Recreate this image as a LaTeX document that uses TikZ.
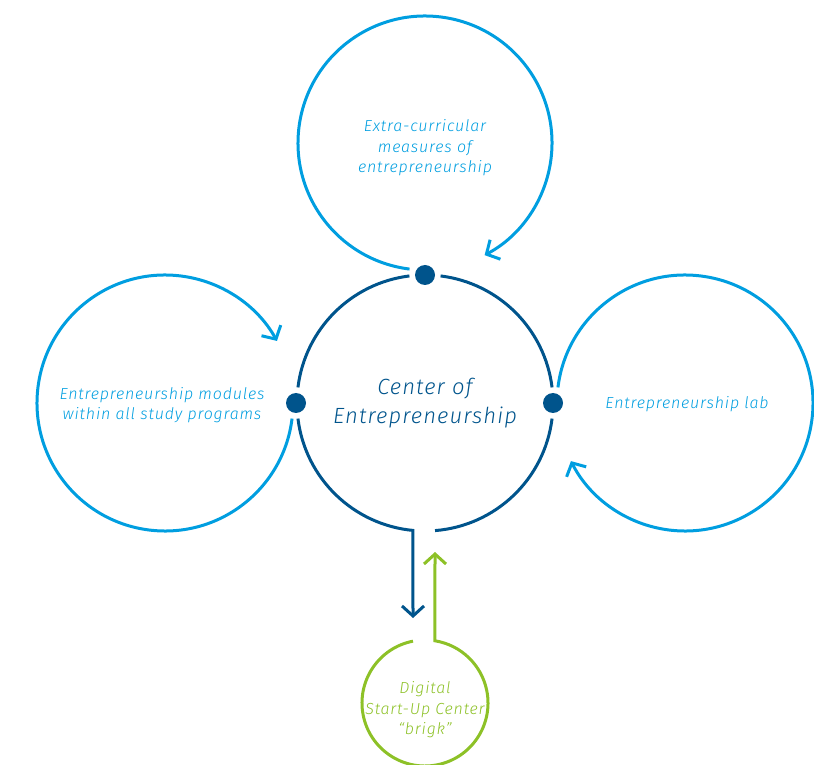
\documentclass[tikz,border=0pt]{standalone}
\usepackage{fontspec}
\usetikzlibrary{arrows.meta}
\newfontfamily\labfont{Fira Sans Light Italic}[LetterSpace=5]
\definecolor{lblue}{RGB}{0,158,224}
\definecolor{dblue}{RGB}{0,84,140}
\definecolor{lgreen}{RGB}{141,193,39}
\begin{document}
\begin{tikzpicture}[x=1pt,y=1pt,
  lb/.style={line width=3pt, draw=lblue},
  db/.style={line width=3pt, draw=dblue},
  gr/.style={line width=3pt, draw=lgreen},
  tip/.style={-{Straight Barb[length=10pt,width=22pt]}},
  dotnode/.style={circle, fill=dblue, inner sep=0pt, minimum size=20pt},
  smalltext/.style={font=\labfont\fontsize{16}{20.5}\selectfont, align=center, text=lblue},
  bigtext/.style={font=\labfont\fontsize{22}{29}\selectfont, align=center, text=dblue},
  greentext/.style={font=\labfont\fontsize{16}{20.5}\selectfont, align=center, text=lgreen}]
\useasboundingbox (0,0) rectangle (814,764);
\coordinate (M) at (425,361);
\coordinate (T) at (425,621);
\coordinate (L) at (165,361);
\coordinate (R) at (685,361);
\coordinate (G) at (425,61);
\coordinate (dk) at (413,146);
\coordinate (gt) at (435,212);
% outer circles
\draw[lb, tip] ([shift={(263:127)}]T) arc[start angle=263, end angle=-62, radius=127];
\draw[lb, tip] ([shift={(-7:128)}]L) arc[start angle=-7, end angle=-331, radius=128];
\draw[lb, tip] ([shift={(173:128)}]R) arc[start angle=173, end angle=-153, radius=128];
% main circle
\draw[db] ([shift={(97:128)}]M) arc[start angle=97, end angle=173, radius=128];
\draw[db] ([shift={(-85.5:128)}]M) arc[start angle=-85.5, end angle=-7, radius=128];
\draw[db] ([shift={(7:128)}]M) arc[start angle=7, end angle=83, radius=128];
\draw[db, tip] ([shift={(187:128)}]M) arc[start angle=187, end angle=264.6, radius=128] -- (dk);
% green circle
\draw[gr, tip] ([shift={(101:63)}]G) arc[start angle=101, end angle=440.9, radius=63] -- (gt);
% dots
\node[dotnode] (dT) at (425,489) {};
\node[dotnode] (dL) at (296,361) {};
\node[dotnode] (dR) at (553,361) {};
% texts
\node[smalltext] (tT) at (425,616) {Extra-curricular\\measures of\\entrepreneurship};
\node[smalltext] (tL) at (162,359) {Entrepreneurship modules\\within all study programs};
\node[smalltext] (tR) at (687,360) {Entrepreneurship lab};
\node[bigtext] (tM) at (425,361) {Center of\\Entrepreneurship};
\node[greentext] (tG) at (425,54) {Digital\\Start-Up Center\\“brigk”};
\end{tikzpicture}
\end{document}
